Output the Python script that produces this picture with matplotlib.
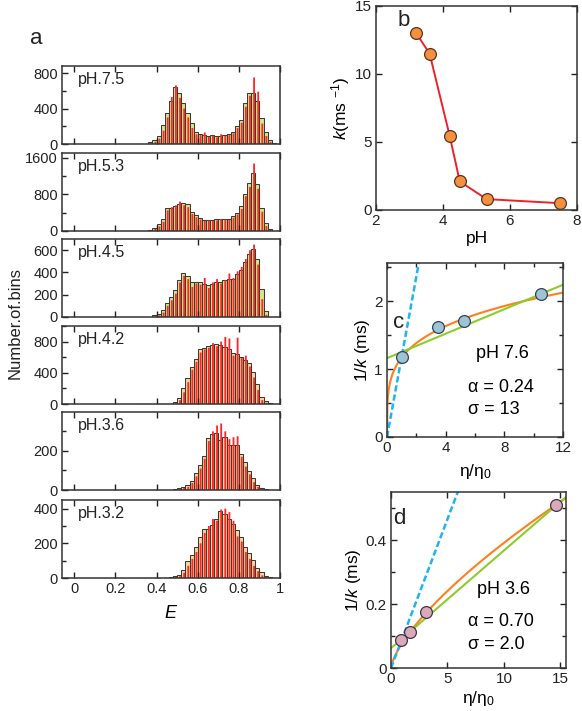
import numpy as np
from matplotlib import pyplot as plt
from matplotlib.ticker import MultipleLocator

plt.rcParams['font.family'] = ['Liberation Sans', 'DejaVu Sans']
plt.rcParams['mathtext.fontset'] = 'custom'
plt.rcParams['mathtext.rm'] = 'Liberation Sans'
plt.rcParams['mathtext.it'] = 'Liberation Sans:italic'

# ---- panel a: FRET efficiency histograms, bins of 0.02 starting at E = 0.30
bin_start = 0.30
bin_w = 0.02
ph_labels = ['pH.7.5', 'pH.5.3', 'pH.4.5', 'pH.4.2', 'pH.3.6', 'pH.3.2']

counts_75 = [0, 0, 5, 18, 45, 90, 210, 350, 485, 640, 580, 465, 350, 235, 135, 115, 105, 95,
             100, 90, 95, 105, 115, 140, 205, 270, 460, 580, 580, 490, 290, 130, 50, 15, 0]
red_75 = [0, 0, 2, 8, 25, 60, 150, 300, 530, 660, 520, 400, 300, 180, 110, 100, 130, 80,
          95, 75, 110, 90, 100, 120, 180, 240, 420, 545, 750, 590, 230, 90, 25, 5, 0]

counts_53 = [0, 0, 0, 25, 75, 145, 255, 510, 510, 545, 595, 610, 580, 410, 340, 290, 245, 245,
             240, 255, 270, 270, 270, 320, 390, 545, 800, 1040, 1265, 1020, 510, 170, 50, 0, 0]
red_53 = [0, 0, 0, 10, 45, 100, 200, 450, 520, 560, 640, 560, 520, 370, 300, 250, 220, 230,
          220, 230, 260, 250, 240, 290, 360, 480, 760, 960, 1470, 920, 420, 110, 20, 0, 0]

counts_45 = [0, 0, 0, 0, 15, 30, 60, 130, 180, 245, 330, 395, 370, 315, 315, 315, 300, 285,
             300, 310, 315, 330, 345, 340, 385, 420, 490, 565, 610, 520, 250, 55, 0, 0, 0]
red_45 = [0, 0, 0, 0, 5, 15, 40, 100, 150, 210, 310, 370, 340, 270, 300, 290, 350, 260,
          310, 340, 300, 330, 390, 350, 410, 450, 520, 600, 650, 470, 160, 20, 0, 0, 0]

counts_42 = [0, 0, 0, 0, 0, 0, 0, 0, 5, 25, 80, 200, 330, 480, 580, 700, 720, 750,
             760, 770, 760, 730, 700, 660, 640, 600, 570, 520, 410, 260, 90, 35, 10, 0, 0]
red_42 = [0, 0, 0, 0, 0, 0, 0, 0, 2, 10, 50, 150, 280, 440, 540, 660, 700, 720,
          780, 740, 800, 860, 840, 620, 850, 590, 620, 480, 340, 180, 50, 15, 3, 0, 0]

counts_36 = [0, 0, 0, 0, 0, 0, 0, 0, 0, 4, 8, 16, 24, 48, 88, 128, 176, 264, 284,
             292, 256, 272, 228, 228, 228, 184, 144, 98, 60, 28, 12, 4, 0, 0, 0]
red_36 = [0, 0, 0, 0, 0, 0, 0, 0, 0, 1, 4, 10, 16, 36, 70, 110, 160, 250, 300,
          330, 340, 300, 260, 270, 275, 170, 120, 80, 40, 16, 6, 1, 0, 0, 0]

counts_32 = [0, 0, 0, 0, 0, 0, 0, 0, 5, 9, 18, 46, 97, 133, 179, 239, 285, 285, 308,
             340, 386, 368, 340, 313, 276, 239, 179, 143, 101, 60, 32, 12, 5, 0, 0]
red_32 = [0, 0, 0, 0, 0, 0, 0, 0, 2, 5, 10, 30, 70, 110, 150, 200, 260, 300, 340,
          330, 395, 400, 380, 330, 240, 210, 150, 110, 70, 40, 15, 5, 1, 0, 0]

hist_counts = [counts_75, counts_53, counts_45, counts_42, counts_36, counts_32]
hist_red = [red_75, red_53, red_45, red_42, red_36, red_32]
hist_ylim = [880, 1700, 700, 1000, 399, 450]
hist_major = [400, 800, 200, 400, 200, 200]
hist_minor = [200, 400, 200, 200, 100, 100]
fill_colors = ['#d4e686', '#d4e686', '#d4e686', '#f9d69a', '#f9d69a', '#f9d69a']

# ---- panel b: rate vs pH
ph_b = [3.2, 3.6, 4.2, 4.5, 5.3, 7.5]
k_b = [13.0, 11.5, 5.45, 2.1, 0.8, 0.5]

# ---- panel c: 1/k vs viscosity, pH 7.6
eta_c = [1.0, 3.5, 5.25, 10.5]
invk_c = [1.17, 1.62, 1.70, 2.10]
alpha_c, amp_c = 0.24, 1.17
lin_c = (1.16, 0.09)
slope0_c = 1.18

# ---- panel d: 1/k vs viscosity, pH 3.6
eta_d = [0.9, 1.7, 3.1, 14.6]
invk_d = [0.088, 0.112, 0.176, 0.508]
alpha_d, amp_d = 0.70, 0.078
lin_d = (0.062, 0.0305)
slope0_d = 0.093

W, H = 582, 711
fig = plt.figure(figsize=(W / 100, H / 100), dpi=100)


def px_axes(x0, y0, x1, y1):
    return fig.add_axes([x0 / W, 1 - y1 / H, (x1 - x0) / W, (y1 - y0) / H])


def style(ax, size=11):
    ax.tick_params(which='both', direction='in', top=True, right=True, labelsize=size,
                   width=1, colors='#222222', pad=3)
    ax.tick_params(which='major', length=4)
    ax.tick_params(which='minor', length=3)
    for s in ax.spines.values():
        s.set_linewidth(1.1)
        s.set_color('#333333')


edges = bin_start + bin_w * np.arange(len(counts_75))
tops = [66, 153, 239, 326, 412, 500]
for i in range(6):
    ax = px_axes(62, tops[i], 280, tops[i] + 78)
    ax.bar(edges, hist_counts[i], width=bin_w, align='edge', color=fill_colors[i],
           edgecolor='#3a3a3a', linewidth=0.75)
    ax.bar(edges + 0.0095, hist_red[i], width=0.009, align='edge', color='#ff2626',
           linewidth=0, snap=False)
    ax.set_xlim(-0.06, 1.0)
    ax.set_ylim(0, hist_ylim[i])
    ax.xaxis.set_major_locator(MultipleLocator(0.2))
    ax.yaxis.set_major_locator(MultipleLocator(hist_major[i]))
    ax.yaxis.set_minor_locator(MultipleLocator(hist_minor[i]))
    style(ax, 10.5)
    ax.tick_params(right=False, which='both')
    ax.text(0.075, 0.83, ph_labels[i], transform=ax.transAxes, fontsize=11.5,
            va='center', color='#222222')
    if i < 5:
        ax.set_xticklabels([])
    else:
        ax.set_xticks([0, 0.2, 0.4, 0.6, 0.8, 1.0])
        ax.set_xticklabels(['0', '0.2', '0.4', '0.6', '0.8', '1'])
        ax.set_xlabel('$E$', fontsize=13, labelpad=6)

fig.text(15 / W, 1 - 323 / H, 'Number.of.bins', rotation=90, fontsize=12,
         ha='center', va='center', color='#222222')

# panel b
axb = px_axes(376, 6, 577, 210)
axb.plot(ph_b, k_b, color='#f0202a', lw=1.4, zorder=2)
axb.plot(ph_b, k_b, 'o', ms=8.5, mfc='#f6903c', mec='#553322', mew=0.9, zorder=3)
axb.set_xlim(2, 8)
axb.set_ylim(0, 15)
axb.xaxis.set_major_locator(MultipleLocator(2))
axb.yaxis.set_major_locator(MultipleLocator(5))
style(axb)
axb.set_xlabel('pH', fontsize=12.5, labelpad=2)
axb.set_ylabel('$k$(ms $^{-1}$)', fontsize=12.5, labelpad=2)

# panel c
axc = px_axes(387, 263, 563, 437)
xc = np.linspace(0, 12, 400)
axc.plot(xc, amp_c * xc ** alpha_c, color='#ff7f1e', lw=1.5, zorder=2)
axc.plot(xc, lin_c[0] + lin_c[1] * xc, color='#8ccc2c', lw=1.5, zorder=2)
axc.plot(xc, slope0_c * xc, color='#1db4f0', lw=1.8, ls=(0, (2.5, 1.2)), zorder=2)
axc.plot(eta_c, invk_c, 'o', ms=8.5, mfc='#9cc4d4', mec='#334455', mew=0.9, zorder=3)
axc.set_xlim(0, 12)
axc.set_ylim(0, 2.56)
axc.xaxis.set_major_locator(MultipleLocator(4))
axc.xaxis.set_minor_locator(MultipleLocator(2))
axc.yaxis.set_major_locator(MultipleLocator(1))
axc.yaxis.set_minor_locator(MultipleLocator(0.5))
style(axc)
axc.set_xlabel('η/η$_0$', fontsize=12.5, labelpad=5)
axc.set_ylabel('1/$k$ (ms)', fontsize=12.5, labelpad=2)
axc.text(6.1, 1.23, 'pH 7.6', fontsize=13, va='center')
axc.text(5.5, 0.73, 'α = 0.24', fontsize=13, va='center')
axc.text(5.5, 0.40, 'σ = 13', fontsize=13, va='center')

# panel d
axd = px_axes(391, 492, 566, 668)
xd = np.linspace(0, 15.5, 400)
axd.plot(xd, amp_d * xd ** alpha_d, color='#ff7f1e', lw=1.5, zorder=2)
axd.plot(xd, lin_d[0] + lin_d[1] * xd, color='#8ccc2c', lw=1.5, zorder=2)
axd.plot(xd, slope0_d * xd, color='#1db4f0', lw=1.8, ls=(0, (2.5, 1.2)), zorder=2)
axd.plot(eta_d, invk_d, 'o', ms=8.5, mfc='#d9aabb', mec='#443344', mew=0.9, zorder=3)
axd.set_xlim(0, 15.5)
axd.set_ylim(0, 0.55)
axd.xaxis.set_major_locator(MultipleLocator(5))
axd.yaxis.set_minor_locator(MultipleLocator(0.1))
axd.set_yticks([0, 0.2, 0.4])
axd.set_yticklabels(['0', '0.2', '0.4'])
style(axd)
axd.set_xlabel('η/η$_0$', fontsize=12.5, labelpad=2)
axd.set_ylabel('1/$k$ (ms)', fontsize=12.5, labelpad=2)
axd.text(7.6, 0.244, 'pH 3.6', fontsize=13, va='center')
axd.text(6.8, 0.144, 'α = 0.70', fontsize=13, va='center')
axd.text(6.8, 0.072, 'σ = 2.0', fontsize=13, va='center')

# panel letters
for lab, x, y in [('a', 36, 38), ('b', 404, 20), ('c', 399, 322), ('d', 399, 518)]:
    fig.text(x / W, 1 - y / H, lab, fontsize=16, ha='center', va='center', color='#222222')

fig.savefig('out.png', dpi=100)
